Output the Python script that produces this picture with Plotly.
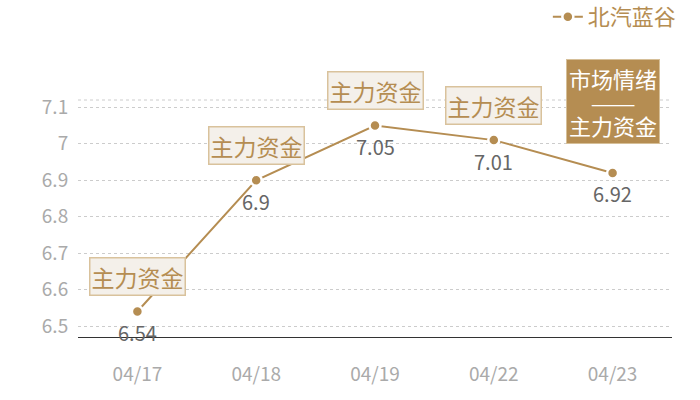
import plotly.graph_objects as go

dates = ["04/17", "04/18", "04/19", "04/22", "04/23"]
prices = [6.54, 6.9, 7.05, 7.01, 6.92]
series_name = "北汽蓝谷"
flow_label = "主力资金"
last_lines = ["市场情绪", "———", "主力资金"]
y_ticks = [6.5, 6.6, 6.7, 6.8, 6.9, 7, 7.1]
y_range = [6.47, 7.12]

gold = "#b58d52"
font_family = "Noto Sans CJK SC, Microsoft YaHei, sans-serif"

fig = go.Figure(go.Scatter(
    x=dates,
    y=prices,
    name=series_name,
    mode="lines+markers",
    line=dict(color=gold, width=2),
    marker=dict(size=11, color=gold, line=dict(color="white", width=2.5)),
    cliponaxis=False,
))

big = "<span style='font-size:22px'>{}</span>"
last_label = "<br>".join([big.format(last_lines[0]), last_lines[1], big.format(last_lines[2])])

for i, (d, p) in enumerate(zip(dates, prices)):
    # value below the point
    fig.add_annotation(
        x=d, y=p, text=str(p), showarrow=False, yshift=-21,
        font=dict(size=20, color="#666666", family=font_family),
    )
    # boxed label above the point
    if i < len(dates) - 1:
        fig.add_annotation(
            x=d, y=p, text=flow_label, showarrow=False, yshift=35,
            font=dict(size=23, color=gold, family=font_family),
            bgcolor="#f4f0ea", bordercolor="#d9c29c", borderwidth=1.5, borderpad=1,
        )
    else:
        fig.add_annotation(
            x=d, y=p, text=last_label, showarrow=False, yshift=71,
            font=dict(size=18, color="white", family=font_family),
            bgcolor=gold, bordercolor="#d6bf98", borderwidth=1, borderpad=2,
        )

# dotted line on top edge of plot
fig.add_shape(type="line", xref="paper", yref="y domain", x0=0, x1=1, y0=1, y1=1,
              line=dict(color="#cccccc", width=1, dash="dot"))

fig.update_layout(
    width=700, height=400,
    margin=dict(l=78, r=28, t=100, b=63, autoexpand=False),
    paper_bgcolor="white", plot_bgcolor="white",
    font=dict(family=font_family),
    hovermode=False,
    showlegend=True,
    legend=dict(x=0.791, y=1.35, xanchor="left", yanchor="middle",
                font=dict(size=22, color=gold), bgcolor="rgba(0,0,0,0)",
                itemwidth=30),
    xaxis=dict(
        automargin=False,
        showgrid=False, showline=True, linecolor="#333333", linewidth=1,
        ticks="outside", ticklen=20, tickcolor="rgba(0,0,0,0)",
        tickfont=dict(size=19, color="#aaaaaa"),
        range=[-0.5, len(dates) - 0.5],
    ),
    yaxis=dict(
        automargin=False,
        range=y_range, tickvals=y_ticks,
        showgrid=True, gridcolor="#cccccc", griddash="dot", gridwidth=1,
        zeroline=False, showline=False,
        tickfont=dict(size=19, color="#aaaaaa"),
        ticks="outside", ticklen=5, tickcolor="rgba(0,0,0,0)",
    ),
)

# drop the default 8px body margin so the figure sits at the window corner
fig.write_html("out.html", config={"displayModeBar": False},
               post_script="document.body.style.margin='0';")
